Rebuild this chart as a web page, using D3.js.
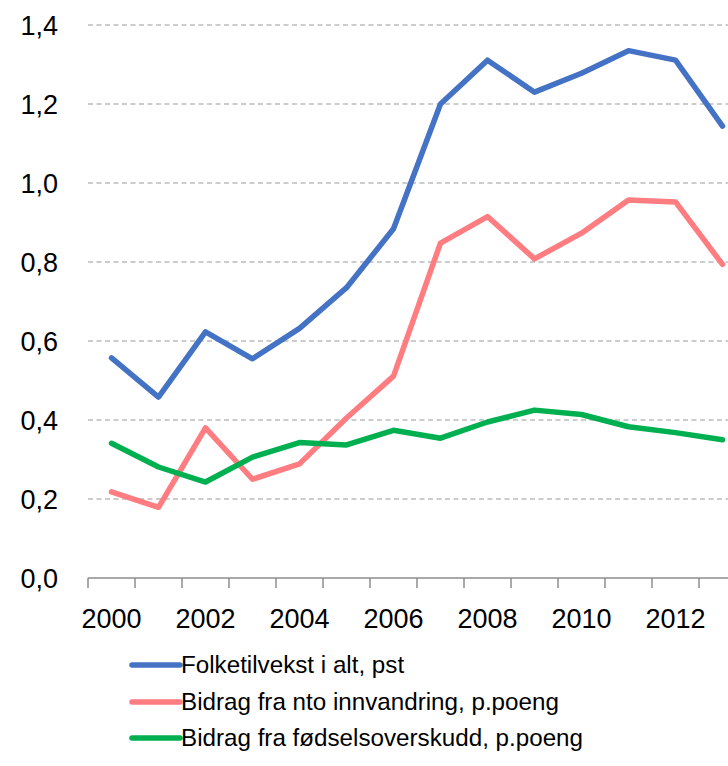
<!DOCTYPE html>
<html>
<head>
<meta charset="utf-8">
<script src="https://cdn.jsdelivr.net/npm/d3@7"></script>
<style>
  html, body { margin: 0; padding: 0; background: #fff; }
  svg { display: block; }
  text { font-family: "Liberation Sans", Arial, sans-serif; fill: #000; }
</style>
</head>
<body>
<svg id="chart" width="728" height="766"></svg>
<script>
const years = [2000, 2001, 2002, 2003, 2004, 2005, 2006, 2007, 2008, 2009, 2010, 2011, 2012, 2013];
const folketilvekst = [0.557, 0.458, 0.623, 0.555, 0.632, 0.735, 0.884, 1.200, 1.311, 1.230, 1.278, 1.335, 1.311, 1.144];
const innvandring  = [0.218, 0.179, 0.380, 0.250, 0.289, 0.405, 0.511, 0.848, 0.915, 0.808, 0.873, 0.957, 0.952, 0.794];
const fodsel       = [0.341, 0.281, 0.243, 0.306, 0.343, 0.337, 0.374, 0.354, 0.395, 0.425, 0.414, 0.383, 0.368, 0.350];
const yTicks = [0, 0.2, 0.4, 0.6, 0.8, 1.0, 1.2, 1.4];
const xTickLabels = [2000, 2002, 2004, 2006, 2008, 2010, 2012];
const seriesNames = ["Folketilvekst i alt, pst", "Bidrag fra nto innvandring, p.poeng", "Bidrag fra fødselsoverskudd, p.poeng"];
const seriesColors = ["#4472C4", "#FF7C80", "#00B050"];

(function () {
const series = [folketilvekst, innvandring, fodsel].map((vals, i) => ({
  name: seriesNames[i], color: seriesColors[i],
  values: years.map((yr, j) => ({ year: yr, v: vals[j] }))
}));

const svg = d3.select("#chart");
const mLeft = 88, mRight = 746, mTop = 25, mBottom = 578;

const x = d3.scaleBand().domain(years).range([mLeft, mRight]).padding(0);
const y = d3.scaleLinear().domain([0, 1.4]).range([mBottom, mTop]);
const fmt = v => d3.format(".1f")(v).replace(".", ",");

// Gridlines
svg.append("g").selectAll("line")
  .data(yTicks.filter(t => t > 0))
  .join("line")
  .attr("x1", mLeft).attr("x2", 728)
  .attr("y1", d => y(d)).attr("y2", d => y(d))
  .attr("stroke", "#9a9a9a").attr("stroke-width", 1.2)
  .attr("stroke-dasharray", "5,3.5");

// Y axis labels
const yAxis = d3.axisLeft(y).tickValues(yTicks).tickFormat(fmt).tickSize(0).tickPadding(0);
const gy = svg.append("g").attr("transform", "translate(58,0)").call(yAxis);
gy.select(".domain").remove();
gy.selectAll("text").style("font-size", "27px").attr("dy", "0.35em")
  .style("font-family", "'Liberation Sans', Arial, sans-serif").attr("fill", "#000");

// X axis baseline
svg.append("line")
  .attr("x1", mLeft).attr("x2", 728)
  .attr("y1", mBottom).attr("y2", mBottom)
  .attr("stroke", "#8c8c8c").attr("stroke-width", 1.5);

// X boundary ticks
svg.append("g").selectAll("line")
  .data(years)
  .join("line")
  .attr("x1", d => x(d)).attr("x2", d => x(d))
  .attr("y1", mBottom).attr("y2", mBottom + 10)
  .attr("stroke", "#8c8c8c").attr("stroke-width", 1.5);

// X labels
const xAxis = d3.axisBottom(x).tickValues(xTickLabels).tickSize(0).tickPadding(0);
const gx = svg.append("g").attr("transform", `translate(0,${mBottom})`).call(xAxis);
gx.select(".domain").remove();
gx.selectAll("text").style("font-size", "27px").attr("y", 50).attr("dy", 0)
  .style("font-family", "'Liberation Sans', Arial, sans-serif").attr("fill", "#000");

// Lines
const line = d3.line()
  .x(d => x(d.year) + x.bandwidth() / 2)
  .y(d => y(d.v));

svg.append("g").selectAll("path")
  .data(series)
  .join("path")
  .attr("d", d => line(d.values))
  .attr("fill", "none")
  .attr("stroke", d => d.color)
  .attr("stroke-width", 5.5)
  .attr("stroke-linejoin", "round")
  .attr("stroke-linecap", "round");

// Legend
const legendY = [665, 702, 738];
const lg = svg.append("g").selectAll("g")
  .data(series)
  .join("g")
  .attr("transform", (d, i) => `translate(0,${legendY[i]})`);
lg.append("line")
  .attr("x1", 132).attr("x2", 180)
  .attr("y1", 0).attr("y2", 0)
  .attr("stroke", d => d.color).attr("stroke-width", 5.5)
  .attr("stroke-linecap", "round");
lg.append("text")
  .attr("x", 181).attr("y", 0).attr("dy", "0.35em")
  .style("font-size", "24.2px")
  .text(d => d.name);
})();
</script>
</body>
</html>
